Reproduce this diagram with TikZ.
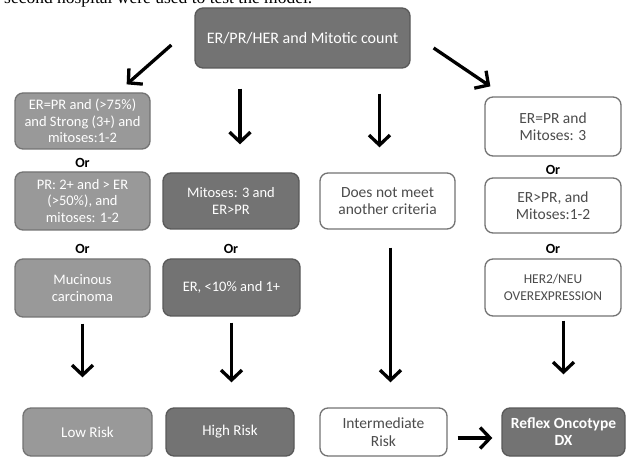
\documentclass[tikz,border=0pt]{standalone}
\usepackage{fontspec}
\setmainfont{Carlito}
\newfontfamily\bodyserif{Liberation Serif}
\usetikzlibrary{arrows.meta}

\begin{document}
\begin{tikzpicture}[x=1pt, y=-1pt,
	box/.style={rounded corners=8pt, line width=1.3pt, align=center, inner sep=0pt,
		minimum width=135pt, minimum height=57pt, font=\fontsize{14.5}{16.7}\selectfont},
	greybox/.style={box, fill=black!40, draw=black!55, text=white},
	darkbox/.style={box, fill=black!55, draw=black!65, text=white},
	whitebox/.style={box, fill=white, draw=black!55, text=black!70},
	orlabel/.style={font=\fontsize{14}{16}\selectfont\bfseries},
	arr/.style={-{Straight Barb[length=10pt,width=21pt]}, line width=3.3pt},
	]
\useasboundingbox (0,0) rectangle (627,457);

% clipped line of the running text
\node[anchor=base west, inner sep=0pt, font=\bodyserif\fontsize{17.5}{20}\selectfont] (bodyline) at (4,4) {second hospital were used to test the model.};

\node[darkbox, minimum width=215pt, minimum height=60pt, font=\fontsize{16}{18}\selectfont] (start) at (302.5,38) {ER/PR/HER and Mitotic count};

% low risk column
\node[greybox, minimum height=56pt] (lowa) at (82.5,121) {ER=PR and (>75\%)\\and Strong (3+) and\\mitoses:1-2};
\node[orlabel] (lowora) at (82.5,163) {Or};
\node[greybox, minimum height=58pt] (lowb) at (82.5,201) {PR: 2+ and > ER\\(>50\%), and\\mitoses: 1-2};
\node[orlabel] (loworb) at (82.5,249) {Or};
\node[greybox, minimum height=58pt] (lowc) at (82.5,288) {Mucinous\\carcinoma};

% high risk column
\node[darkbox, minimum width=136pt, minimum height=56pt] (higha) at (231,201) {Mitoses: 3 and\\ER>PR};
\node[orlabel] (highor) at (231,249) {Or};
\node[darkbox, minimum width=137pt, minimum height=57pt] (highb) at (231.5,287.5) {ER, <10\% and 1+};

% intermediate column
\node[whitebox, minimum height=56pt, font=\fontsize{15.5}{17.5}\selectfont] (inta) at (387.5,201) {Does not meet\\another criteria};

% oncotype column
\node[whitebox, minimum width=136pt, minimum height=59pt, font=\fontsize{15.5}{17.5}\selectfont] (onca) at (553,126.5) {ER=PR and\\Mitoses: 3};
\node[orlabel] (oncora) at (553,170) {Or};
\node[whitebox, minimum width=136pt, minimum height=55pt, font=\fontsize{15.5}{17.5}\selectfont] (oncb) at (553,205.5) {ER>PR, and\\Mitoses:1-2};
\node[orlabel] (oncorb) at (553,249) {Or};
\node[whitebox, minimum width=136pt, minimum height=57pt, font=\fontsize{13.5}{17}\selectfont] (oncc) at (553,287.5) {HER2/NEU\\OVEREXPRESSION};

% outcomes
\node[greybox, minimum width=129pt, minimum height=48pt, font=\fontsize{15}{17}\selectfont] (lowrisk) at (87.5,432) {Low Risk};
\node[darkbox, minimum width=128pt, minimum height=48pt, font=\fontsize{15}{17}\selectfont] (highrisk) at (230,432) {High Risk};
\node[whitebox, minimum width=127pt, minimum height=48pt, font=\fontsize{15.5}{17.5}\selectfont] (intrisk) at (383.5,432) {Intermediate\\Risk};
\node[darkbox, minimum width=123pt, minimum height=48pt, font=\fontsize{15.5}{17}\selectfont\bfseries] (reflex) at (563.5,432) {Reflex Oncotype\\DX};

\draw[arr] ([shift={(-23,7)}]start.west) -- ([shift={(-24,-8)}]lowa.north east);
\draw[arr] ([shift={(23,10)}]start.east) -- ([shift={(6,-10)}]onca.north west);
\draw[arr, shorten <=20pt, shorten >=28pt] ([xshift=9pt]higha.north |- start.south) -- ([xshift=9pt]higha.north);
\draw[arr, shorten <=25pt, shorten >=25pt] ([xshift=-8pt]inta.north |- start.south) -- ([xshift=-8pt]inta.north);

\draw[arr, shorten <=6pt, shorten >=30pt] (lowc.south) -- (lowc.south |- lowrisk.north);
\draw[arr, shorten <=6pt, shorten >=25pt] (highb.south) -- (highb.south |- highrisk.north);
\draw[arr, shorten <=18pt, shorten >=25pt] ([xshift=3pt]inta.south) -- ([xshift=3pt]inta.south |- intrisk.north);
\draw[arr, shorten <=4pt, shorten >=33pt] (reflex.north |- oncc.south) -- (reflex.north);
\draw[arr, shorten <=10pt, shorten >=9pt] ([yshift=-6pt]intrisk.east) -- ([yshift=-6pt]reflex.west);

\end{tikzpicture}
\end{document}
